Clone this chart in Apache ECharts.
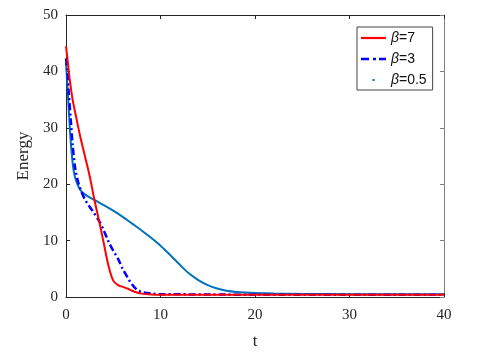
<!DOCTYPE html>
<html><head><meta charset="utf-8">
<script src="https://cdn.jsdelivr.net/npm/echarts@6/dist/echarts.min.js"></script>
<style>html,body{margin:0;padding:0;background:#fff}#c{width:481px;height:355px}</style>
</head><body><div id="c"></div>
<script>
const seriesNames = ['β=7', 'β=3', 'β=0.5'];
const t7 = [0, 0.2, 0.4, 0.7, 1.0, 1.5, 2.0, 2.5, 3.0, 3.5, 4.0, 4.5, 5.0, 5.5, 6.0, 6.5, 7.0, 7.5, 8, 9, 10, 15, 20, 30, 40];
const e7 = [44.5, 41.5, 38.5, 35, 32.5, 28.5, 25, 21.5, 17.3, 13.5, 9.5, 5.5, 2.9, 2.1, 1.8, 1.5, 1.1, 0.8, 0.6, 0.45, 0.4, 0.4, 0.4, 0.4, 0.4];
const t3 = [0, 0.15, 0.3, 0.5, 0.7, 1.0, 1.3, 1.6, 2.0, 2.5, 3.0, 3.5, 4.0, 4.5, 5.0, 5.5, 6.0, 6.5, 7.0, 7.5, 8, 9, 10, 15, 20, 30, 40];
const e3 = [42.3, 40, 36, 31.5, 27, 22.5, 20.3, 18.8, 17.3, 16, 14.8, 13.5, 11.8, 9.8, 8.2, 6.8, 5, 3.5, 2.2, 1.3, 0.9, 0.6, 0.5, 0.45, 0.4, 0.4, 0.4];
const t05 = [0, 0.2, 0.4, 0.6, 0.8, 1.0, 1.5, 2.0, 3.0, 4.0, 5.0, 6.0, 7.0, 8.0, 9.0, 10, 11, 12, 13, 14, 15, 16, 17, 18, 20, 22, 25, 30, 40];
const e05 = [41.5, 36, 30, 25.5, 22.5, 21, 19, 18.2, 17.2, 16.3, 15.3, 14.2, 13.0, 11.8, 10.5, 9.1, 7.5, 5.8, 4.2, 3.0, 2.1, 1.5, 1.1, 0.9, 0.7, 0.6, 0.55, 0.5, 0.5];
const xTicks = [0, 10, 20, 30, 40];
const yTicks = [0, 10, 20, 30, 40, 50];

const zip = (a, b) => a.map((v, i) => [v, b[i]]);
const serif = '"Liberation Serif", "Times New Roman", serif';
const sans = '"Liberation Sans", Arial, sans-serif';
const axisCol = '#262626';
const chart = echarts.init(document.getElementById('c'), null, {renderer: 'canvas'});
const baseX = {type: 'value', min: xTicks[0], max: xTicks[xTicks.length - 1], interval: 10, splitLine: {show: false}};
const baseY = {type: 'value', min: yTicks[0], max: yTicks[yTicks.length - 1], interval: 10, splitLine: {show: false}};
chart.setOption({
  animation: false,
  backgroundColor: '#fff',
  grid: {left: 66, right: 37, top: 15, bottom: 56},
  xAxis: [
    Object.assign({}, baseX, {
      position: 'bottom', name: 't', nameLocation: 'middle', nameGap: 36,
      nameTextStyle: {fontFamily: serif, fontSize: 17, color: axisCol},
      axisLine: {lineStyle: {color: axisCol, width: 1}},
      axisTick: {inside: true, length: 4, lineStyle: {color: axisCol}},
      axisLabel: {fontFamily: serif, fontSize: 15, color: axisCol, margin: 11}
    }),
    Object.assign({}, baseX, {
      position: 'top',
      axisLine: {onZero: false, lineStyle: {color: axisCol, width: 1}},
      axisTick: {inside: true, length: 4, lineStyle: {color: axisCol}},
      axisLabel: {show: false}
    })
  ],
  yAxis: [
    Object.assign({}, baseY, {
      position: 'left', name: 'Energy', nameLocation: 'middle', nameGap: 33, nameRotate: 90,
      nameTextStyle: {fontFamily: serif, fontSize: 17, color: axisCol},
      axisLine: {show: true, lineStyle: {color: axisCol, width: 1}},
      axisTick: {show: true, inside: true, length: 4, lineStyle: {color: axisCol}},
      axisLabel: {fontFamily: serif, fontSize: 15, color: axisCol, margin: 8}
    }),
    Object.assign({}, baseY, {
      position: 'right',
      axisLine: {show: true, onZero: false, lineStyle: {color: '#808080', width: 1}},
      axisTick: {show: true, inside: true, length: 4, lineStyle: {color: '#808080'}},
      axisLabel: {show: false}
    })
  ],
  legend: {
    orient: 'vertical', left: 357, top: 27,
    padding: [4, 6, 3, 4], itemGap: 7, itemWidth: 25, itemHeight: 14,
    backgroundColor: '#fff', borderColor: '#444', borderWidth: 1, borderRadius: 0,
    data: [
      {name: seriesNames[0], icon: 'path://M0,0M25,0M25,14M0,14M0,5.9h25v2.2h-25z'},
      {name: seriesNames[1], icon: 'path://M0,0M25,0M25,14M0,14M0,5.7h8v2.6h-8zM12,5.7h3v2.6h-3zM18,5.7h7v2.6h-7z'},
      {name: seriesNames[2], icon: 'path://M0,0M25,0M25,14M0,14M11.5,6h2v2h-2z'}
    ],
    formatter: function (name) {
      return '{i|β}{n|' + name.slice(1) + '}';
    },
    textStyle: {
      fontFamily: sans, fontSize: 14, color: '#111',
      rich: {
        i: {fontFamily: sans, fontStyle: 'italic', fontSize: 14, color: '#111'},
        n: {fontFamily: sans, fontSize: 14, color: '#111'}
      }
    }
  },
  series: [
    {name: seriesNames[2], type: 'line', data: zip(t05, e05), smooth: 0.3, symbol: 'none', z: 1,
     itemStyle: {color: '#0072BD'}, lineStyle: {color: '#0072BD', width: 2}},
    {name: seriesNames[1], type: 'line', data: zip(t3, e3), smooth: 0.3, symbol: 'none', z: 2,
     itemStyle: {color: '#0000FF'}, lineStyle: {color: '#0000FF', width: 2.5, type: [7, 3, 2, 3]}},
    {name: seriesNames[0], type: 'line', data: zip(t7, e7), smooth: 0.3, symbol: 'none', z: 3,
     itemStyle: {color: '#FF0000'}, lineStyle: {color: '#FF0000', width: 2}}
  ]
});
</script></body></html>
